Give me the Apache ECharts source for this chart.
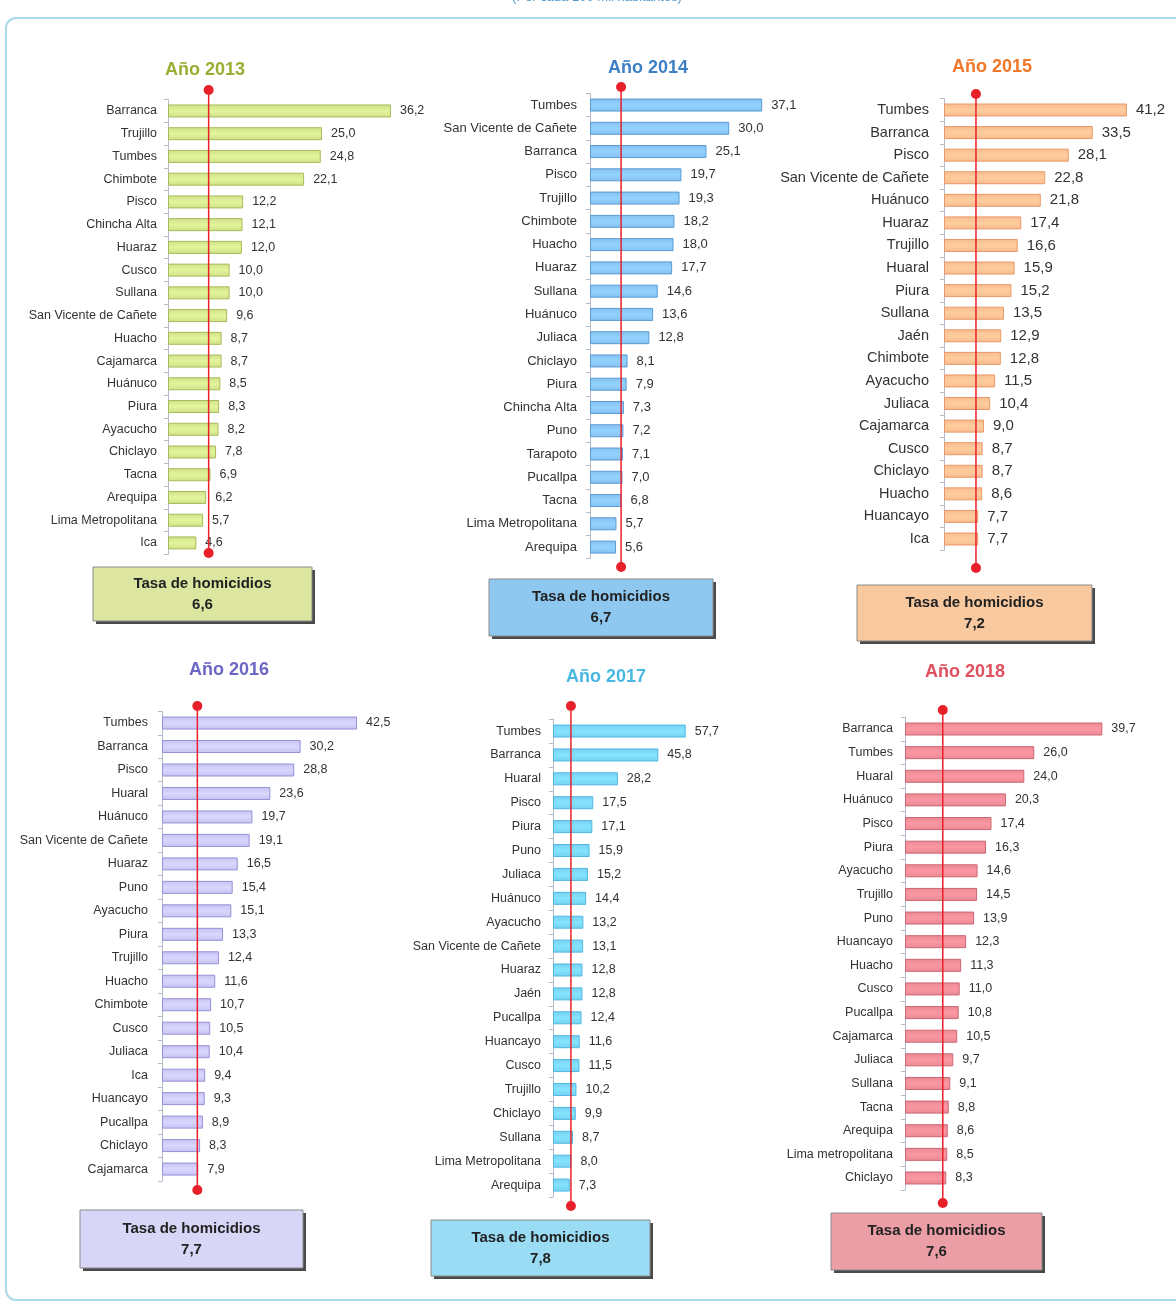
<!DOCTYPE html>
<html><head><meta charset="utf-8">
<script src="https://cdn.jsdelivr.net/npm/echarts@6/dist/echarts.min.js"></script>
<style>html,body{margin:0;padding:0;background:#fff}#c{width:1176px;height:1305px}</style>
</head><body><div id="c"></div>
<script>
const years = ['2013','2014','2015','2016','2017','2018'];
const rates = [6.6, 6.7, 7.2, 7.7, 7.8, 7.6];

const cats2013 = ['Barranca','Trujillo','Tumbes','Chimbote','Pisco','Chincha Alta','Huaraz','Cusco','Sullana','San Vicente de Cañete','Huacho','Cajamarca','Huánuco','Piura','Ayacucho','Chiclayo','Tacna','Arequipa','Lima Metropolitana','Ica'];
const vals2013 = [36.2,25.0,24.8,22.1,12.2,12.1,12.0,10.0,10.0,9.6,8.7,8.7,8.5,8.3,8.2,7.8,6.9,6.2,5.7,4.6];

const cats2014 = ['Tumbes','San Vicente de Cañete','Barranca','Pisco','Trujillo','Chimbote','Huacho','Huaraz','Sullana','Huánuco','Juliaca','Chiclayo','Piura','Chincha Alta','Puno','Tarapoto','Pucallpa','Tacna','Lima Metropolitana','Arequipa'];
const vals2014 = [37.1,30.0,25.1,19.7,19.3,18.2,18.0,17.7,14.6,13.6,12.8,8.1,7.9,7.3,7.2,7.1,7.0,6.8,5.7,5.6];

const cats2015 = ['Tumbes','Barranca','Pisco','San Vicente de Cañete','Huánuco','Huaraz','Trujillo','Huaral','Piura','Sullana','Jaén','Chimbote','Ayacucho','Juliaca','Cajamarca','Cusco','Chiclayo','Huacho','Huancayo','Ica'];
const vals2015 = [41.2,33.5,28.1,22.8,21.8,17.4,16.6,15.9,15.2,13.5,12.9,12.8,11.5,10.4,9.0,8.7,8.7,8.6,7.7,7.7];

const cats2016 = ['Tumbes','Barranca','Pisco','Huaral','Huánuco','San Vicente de Cañete','Huaraz','Puno','Ayacucho','Piura','Trujillo','Huacho','Chimbote','Cusco','Juliaca','Ica','Huancayo','Pucallpa','Chiclayo','Cajamarca'];
const vals2016 = [42.5,30.2,28.8,23.6,19.7,19.1,16.5,15.4,15.1,13.3,12.4,11.6,10.7,10.5,10.4,9.4,9.3,8.9,8.3,7.9];

const cats2017 = ['Tumbes','Barranca','Huaral','Pisco','Piura','Puno','Juliaca','Huánuco','Ayacucho','San Vicente de Cañete','Huaraz','Jaén','Pucallpa','Huancayo','Cusco','Trujillo','Chiclayo','Sullana','Lima Metropolitana','Arequipa'];
const vals2017 = [57.7,45.8,28.2,17.5,17.1,15.9,15.2,14.4,13.2,13.1,12.8,12.8,12.4,11.6,11.5,10.2,9.9,8.7,8.0,7.3];

const cats2018 = ['Barranca','Tumbes','Huaral','Huánuco','Pisco','Piura','Ayacucho','Trujillo','Puno','Huancayo','Huacho','Cusco','Pucallpa','Cajamarca','Juliaca','Sullana','Tacna','Arequipa','Lima metropolitana','Chiclayo'];
const vals2018 = [39.7,26.0,24.0,20.3,17.4,16.3,14.6,14.5,13.9,12.3,11.3,11.0,10.8,10.5,9.7,9.1,8.8,8.6,8.5,8.3];

const allCats = [cats2013,cats2014,cats2015,cats2016,cats2017,cats2018];
const allVals = [vals2013,vals2014,vals2015,vals2016,vals2017,vals2018];

// layout & style (positions/sizes only)
const L = [
 {left:168, top:99.6, h:454.7, max:40, w:246.4, dT:90,  dB:553,  tx:205, ty:70,  box:[93,567,219,54],   fs:12.5, vfs:12.5, m:11, fill:'#cfdf8c', bd:'#a9bb58', tc:'#9aad34', bx:'#dce6a0'},
 {left:590, top:93.4, h:465.3, max:45, w:208.8, dT:87,  dB:567,  tx:648, ty:68,  box:[489,579,224,57],  fs:13,   vfs:13,   m:13, fill:'#86c0ee', bd:'#5a9bd4', tc:'#3d80c6', bx:'#8ec8f0'},
 {left:944, top:98.7, h:451.6, max:50, w:222,   dT:94,  dB:568,  tx:992, ty:67,  box:[857,585,235,56],  fs:14.5, vfs:15,   m:15, fill:'#f8bb90', bd:'#e99a68', tc:'#f07628', bx:'#f8c89f'},
 {left:162, top:711.3,h:469.5, max:50, w:229.5, dT:706, dB:1190, tx:229, ty:670, box:[80,1210,223,58],  fs:12.5, vfs:12.5, m:14, fill:'#c6c3f0', bd:'#9692d8', tc:'#6c66c6', bx:'#d8d6f6'},
 {left:553, top:719.1,h:477.9, max:70, w:161,   dT:706, dB:1206, tx:606, ty:677, box:[431,1220,219,56], fs:12.5, vfs:12.5, m:12, fill:'#78d0f0', bd:'#4fb8e3', tc:'#4ab7e3', bx:'#9adcf4'},
 {left:905, top:717.2,h:472.6, max:45, w:223.7, dT:710, dB:1203, tx:965, ty:672, box:[831,1213,211,57], fs:12.5, vfs:12.5, m:12, fill:'#e68a94', bd:'#cc6673', tc:'#e0505e', bx:'#eb9ea6'}
];

const fmt = v => v.toFixed(1).replace('.', ',');
const grid=[], xAxis=[], yAxis=[], series=[], graphic=[];

graphic.push({type:'rect', shape:{x:6,y:18,width:1190,height:1282,r:10}, style:{fill:'none', stroke:'#a9d9ea', lineWidth:2}, z:0});
graphic.push({type:'text', x:597, y:-9, style:{text:'(Por cada 100 mil habitantes)', textAlign:'center', fill:'#4f9ad2', font:'13px "Liberation Sans", Arial'}});

years.forEach((yr,i)=>{
  const p = L[i];
  grid.push({left:p.left, top:p.top, width:p.w, height:p.h, containLabel:false});
  grid.push({left:p.left, top:p.dT, width:p.w, height:p.dB-p.dT, containLabel:false});
  xAxis.push({gridIndex:2*i, type:'value', min:0, max:p.max, show:false});
  xAxis.push({gridIndex:2*i+1, type:'value', min:0, max:p.max, show:false});
  yAxis.push({gridIndex:2*i, type:'category', inverse:true, data:allCats[i],
    axisLine:{show:true, lineStyle:{color:'#b4bccb', width:1}},
    axisTick:{show:true, length:4, lineStyle:{color:'#b4bccb'}},
    axisLabel:{color:'#333', fontSize:p.fs, fontFamily:'"Liberation Sans", Arial', margin:p.m}});
  yAxis.push({gridIndex:2*i+1, type:'value', min:0, max:1, show:false});
  series.push({type:'bar', xAxisIndex:2*i, yAxisIndex:2*i, data:allVals[i], barWidth:13,
    itemStyle:{color:new echarts.graphic.LinearGradient(0,0,0,1,[{offset:0,color:p.fill},{offset:0.5,color:echarts.color.lift(p.fill,-0.1)},{offset:1,color:p.fill}]), borderColor:p.bd, borderWidth:1},
    label:{show:true, position:'right', distance:9, color:'#333', fontSize:p.vfs, fontFamily:'"Liberation Sans", Arial', formatter:o=>fmt(o.value)},
    animation:false, z:2});
  series.push({type:'line', xAxisIndex:2*i+1, yAxisIndex:2*i+1, data:[[rates[i],0],[rates[i],1]],
    symbol:'circle', symbolSize:10, showSymbol:true, itemStyle:{color:'#e8202a'},
    lineStyle:{color:'#e8202a', width:1.5}, animation:false, z:5, silent:true});
  graphic.push({type:'text', x:p.tx, y:p.ty, style:{text:'Año '+yr, textAlign:'center', textVerticalAlign:'middle', verticalAlign:'middle', fill:p.tc, font:'bold 18px "Liberation Sans", Arial'}});
  const b = p.box;
  graphic.push({type:'rect', shape:{x:b[0]+3,y:b[1]+3,width:b[2],height:b[3]}, style:{fill:'#4a4a4a'}, z:1});
  graphic.push({type:'rect', shape:{x:b[0],y:b[1],width:b[2],height:b[3]},
    style:{fill:p.bx, stroke:'#8a8a8a', lineWidth:1}, z:2});
  graphic.push({type:'text', x:b[0]+b[2]/2, y:b[1]+b[3]/2, z:3,
    style:{text:'Tasa de homicidios\n'+fmt(rates[i]), textAlign:'center', textVerticalAlign:'middle', verticalAlign:'middle', lineHeight:21, fill:'#222', font:'bold 15px "Liberation Sans", Arial'}});
});

const chart = echarts.init(document.getElementById('c'), null, {renderer:'canvas'});
chart.setOption({animation:false, grid, xAxis, yAxis, series, graphic});
</script></body></html>
